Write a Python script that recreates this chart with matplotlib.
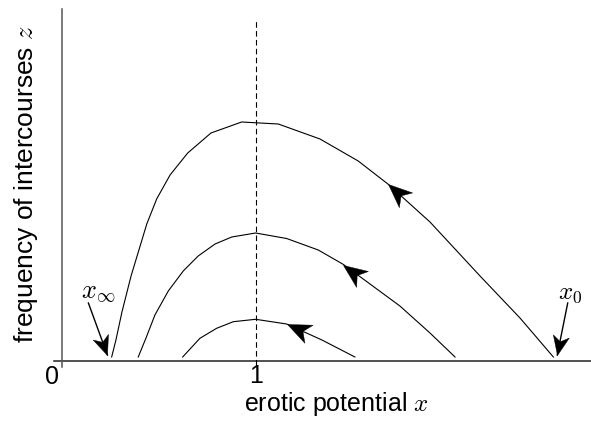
import matplotlib
matplotlib.use("Agg")
import numpy as np
import matplotlib.pyplot as plt
from matplotlib.path import Path
from matplotlib.markers import MarkerStyle
from matplotlib.transforms import Affine2D

plt.rcParams['font.family'] = ['Liberation Sans', 'DejaVu Sans']
plt.rcParams['mathtext.fontset'] = 'cm'

# trajectories (x = erotic potential, z = frequency)
big_x = [0.256, 0.278, 0.309, 0.356, 0.437, 0.488, 0.557, 0.648, 0.768, 0.926,
         1.115, 1.33, 1.527, 1.68, 1.897, 2.155, 2.361, 2.533]
big_z = [0.02, 0.105, 0.245, 0.425, 0.685, 0.81, 0.93, 1.04, 1.14, 1.195,
         1.185, 1.11, 1.00, 0.885, 0.695, 0.425, 0.215, 0.02]

mid_x = [0.393, 0.433, 0.479, 0.548, 0.625, 0.702, 0.789, 0.875, 0.998, 1.158,
         1.321, 1.451, 1.742, 1.897, 2.026]
mid_z = [0.02, 0.115, 0.23, 0.35, 0.45, 0.525, 0.585, 0.62, 0.64, 0.6125,
         0.555, 0.4825, 0.275, 0.14, 0.02]

small_x = [0.622, 0.711, 0.797, 0.883, 0.998, 1.158, 1.340, 1.510]
small_z = [0.02, 0.1135, 0.1635, 0.1965, 0.2085, 0.185, 0.105, 0.02]

curves = [(big_x, big_z), (mid_x, mid_z), (small_x, small_z)]
# index of the vertex carrying the direction arrow on each curve
arrow_idx = [13, 11, 5]

# pointer arrows for x_inf and x_0: (tail, tip)
ptr_inf = ((0.136, 0.29), (0.234, 0.03))
ptr_0 = ((2.607, 0.29), (2.553, 0.03))

x_max = 2.727
z_max = 1.765

# stealth-like arrow head, tip at the origin, pointing along +x
head_path = Path([(0, 0), (-1, 0.42), (-0.72, 0), (-1, -0.42), (0, 0)],
                 [Path.MOVETO, Path.LINETO, Path.LINETO, Path.LINETO, Path.CLOSEPOLY])

fig = plt.figure(figsize=(5.91, 4.21), dpi=100)
ax = fig.add_axes([62 / 591, 60 / 421, 529 / 591, 353 / 421])
ax.set_xlim(0, x_max)
ax.set_ylim(0, z_max)
ax.axis('off')


def head(tail, tip, size):
    p0 = ax.transData.transform(tail)
    p1 = ax.transData.transform(tip)
    ang = np.degrees(np.arctan2(p1[1] - p0[1], p1[0] - p0[0]))
    m = MarkerStyle(head_path, transform=Affine2D().rotate_deg(ang))
    ax.plot([tip[0]], [tip[1]], marker=m, ms=size, color='black',
            markeredgewidth=0.3, linestyle='none', clip_on=False)


# axes drawn by hand so they can cross slightly at the origin
ax.plot([-0.04, x_max], [0, 0], color='#222222', lw=1.1, clip_on=False)
ax.plot([0, 0], [-0.03, 1.76], color='#555555', lw=1.1, clip_on=False)

# x = 1 marker
ax.plot([1, 1], [-0.02, 1.70], color='black', lw=0.8, ls=(0, (5, 3)), clip_on=False)

for (xs, zs), k in zip(curves, arrow_idx):
    ax.plot(xs, zs, color='black', lw=0.8)
    head((xs[k + 1], zs[k + 1]), (xs[k], zs[k]), 34)

for tail, tip in (ptr_inf, ptr_0):
    ax.plot([tail[0], tip[0]], [tail[1], tip[1]], color='black', lw=1.0, clip_on=False)
    head(tail, tip, 28)

ax.text(0.187, 0.345, r'$x_\infty$', fontsize=19, ha='center', va='center')
ax.text(2.619, 0.342, r'$x_0$', fontsize=18, ha='center', va='center')

# tick labels and axis titles
ax.text(-0.054, -0.078, '0', fontsize=18, ha='center', va='center')
ax.text(1.0, -0.075, '1', fontsize=18, ha='center', va='center')
ax.text(1.412, -0.215, r'erotic potential $x$', fontsize=18, ha='center', va='center')
ax.text(-0.186, 0.09, r'frequency of intercourses $z$', fontsize=19,
        ha='left', va='center', rotation=90, rotation_mode='anchor')

fig.savefig('out.png', dpi=100)
